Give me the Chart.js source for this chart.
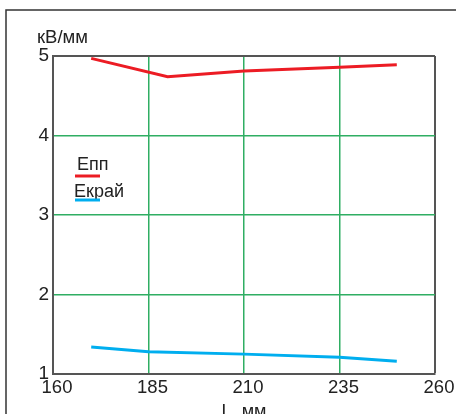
<!DOCTYPE html>
<html>
<head>
<meta charset="utf-8">
<script src="https://cdn.jsdelivr.net/npm/chart.js@4"></script>
<style>
html,body{margin:0;padding:0;background:#fff;}
#wrap{width:456px;height:414px;position:relative;}
</style>
</head>
<body>
<div id="wrap"><canvas id="c" width="456" height="414"></canvas></div>
<script>
const lengths = [170, 185, 190, 210, 235, 250];
const eppValues = [4.97, null, 4.74, 4.81, 4.86, 4.89];
const ekrayValues = [1.34, 1.28, null, 1.25, 1.21, 1.16];
const seriesLabels = ['Епп', 'Екрай'];
const xTicks = [160, 185, 210, 235, 260];
const yTicks = [1, 2, 3, 4, 5];
const yTitle = 'кВ/мм';
const xTitle = 'L, мм';

const FONT = '"Liberation Sans", Arial, sans-serif';
const GREEN = '#2fae63';
const FRAME = '#555555';

function pts(vals) {
  const out = [];
  lengths.forEach((x, i) => { if (vals[i] !== null) out.push({x: x, y: vals[i]}); });
  return out;
}

const decor = {
  id: 'decor',
  beforeDraw(chart) {
    const ctx = chart.ctx;
    ctx.save();
    ctx.strokeStyle = '#333';
    ctx.lineWidth = 1.5;
    ctx.strokeRect(6, 10, 600, 600);
    ctx.restore();
  },
  afterDraw(chart) {
    const ctx = chart.ctx;
    const a = chart.chartArea;
    ctx.save();
    ctx.fillStyle = '#222';
    ctx.font = '18.5px ' + FONT;
    ctx.textBaseline = 'alphabetic';
    ctx.textAlign = 'left';
    ctx.fillText(yTitle, a.left - 16, a.top - 13);
    // legend
    const items = chart.data.datasets;
    const baseY = [170, 197];
    const lineY = [176, 200];
    ctx.font = '18px ' + FONT;
    items.forEach((ds, i) => {
      ctx.fillStyle = '#222';
      ctx.fillText(ds.label, i === 0 ? 77 : 74, baseY[i]);
      ctx.strokeStyle = ds.borderColor;
      ctx.lineWidth = 3;
      ctx.beginPath();
      ctx.moveTo(75, lineY[i]);
      ctx.lineTo(100, lineY[i]);
      ctx.stroke();
    });
    ctx.restore();
  }
};

new Chart(document.getElementById('c'), {
  type: 'line',
  data: {
    datasets: [
      {label: seriesLabels[0], data: pts(eppValues), borderColor: '#ec1c24', borderWidth: 3, pointRadius: 0, tension: 0},
      {label: seriesLabels[1], data: pts(ekrayValues), borderColor: '#00aeef', borderWidth: 3, pointRadius: 0, tension: 0}
    ]
  },
  options: {
    responsive: false,
    animation: false,
    layout: {padding: {left: 0, top: 56, right: 21, bottom: 0}},
    plugins: {legend: {display: false}, tooltip: {enabled: false}},
    scales: {
      x: {
        type: 'linear', min: xTicks[0], max: xTicks[xTicks.length - 1],
        afterBuildTicks: s => { s.ticks = xTicks.map(v => ({value: v})); },
        afterFit: s => { s.height = 40; },
        grid: {
          color: c => (c.tick && c.tick.value === xTicks[xTicks.length - 1]) ? FRAME : GREEN,
          lineWidth: c => (c.tick && c.tick.value === xTicks[xTicks.length - 1]) ? 2 : 1.5,
          drawTicks: false
        },
        border: {color: FRAME, width: 2},
        ticks: {color: '#222', font: {family: FONT, size: 18.5}, padding: 3, labelOffset: 4, maxRotation: 0, autoSkip: false},
        title: {display: true, text: xTitle, color: '#222', font: {family: FONT, size: 18}, padding: {top: 0, bottom: -9}}
      },
      y: {
        type: 'linear', min: yTicks[0], max: yTicks[yTicks.length - 1],
        afterBuildTicks: s => { s.ticks = yTicks.map(v => ({value: v})); },
        afterFit: s => { s.width = 53; },
        grid: {
          color: c => (c.tick && c.tick.value === yTicks[yTicks.length - 1]) ? FRAME : GREEN,
          lineWidth: c => (c.tick && c.tick.value === yTicks[yTicks.length - 1]) ? 2 : 1.5,
          drawTicks: false
        },
        border: {color: FRAME, width: 2},
        ticks: {color: '#222', font: {family: FONT, size: 19}, padding: 4}
      }
    }
  },
  plugins: [decor]
});
</script>
</body>
</html>
